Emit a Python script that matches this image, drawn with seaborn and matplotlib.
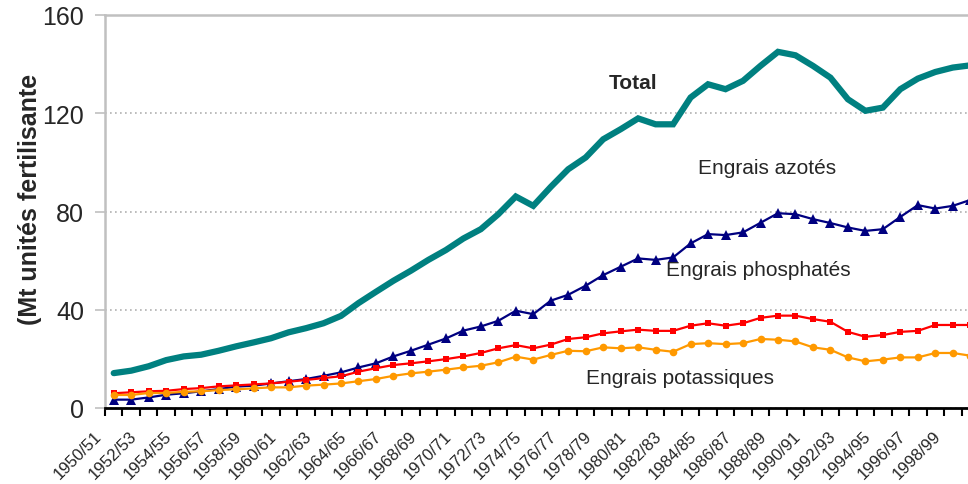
import numpy as np
import pandas as pd
import matplotlib
matplotlib.use("Agg")
import matplotlib.pyplot as plt
import matplotlib.transforms as mtransforms
import seaborn as sns

# seasons 1950/51 .. 1999/00
seasons = [f"{y}/{str(y + 1)[-2:]}" for y in range(1950, 2000)]

# world fertiliser use, Mt of nutrients
total = [14.2, 15.2, 17.0, 19.5, 21.0, 21.7, 23.3, 25.1, 26.7, 28.4,
         30.8, 32.5, 34.5, 37.5, 42.7, 47.3, 51.8, 55.9, 60.3, 64.3,
         69.0, 72.8, 78.9, 86.1, 82.3, 90.0, 97.2, 102.0, 109.4, 113.5,
         117.9, 115.5, 115.5, 126.4, 131.8, 129.8, 133.2, 139.3, 145.0, 143.6,
         139.3, 134.5, 125.7, 121.0, 122.3, 129.8, 134.1, 136.8, 138.6, 139.5]
azotes = [3.4, 3.4, 4.3, 5.4, 6.0, 6.8, 7.7, 8.7, 9.1, 10.0,
          10.9, 11.8, 13.1, 14.5, 16.5, 18.2, 21.0, 23.3, 25.8, 28.3,
          31.5, 33.2, 35.5, 39.6, 38.2, 43.7, 46.1, 49.8, 54.1, 57.5,
          60.9, 60.3, 61.3, 67.0, 70.8, 70.4, 71.5, 75.4, 79.3, 78.9,
          76.9, 75.3, 73.5, 72.1, 72.8, 77.8, 82.6, 81.2, 82.3, 84.7]
phosphates = [6.0, 6.4, 6.8, 7.0, 7.7, 8.1, 8.8, 9.2, 9.6, 10.0,
              10.7, 11.4, 12.2, 12.9, 14.8, 16.2, 17.5, 18.2, 19.0, 19.9,
              21.0, 22.4, 24.3, 25.6, 24.3, 25.8, 28.1, 28.8, 30.4, 31.2,
              31.9, 31.4, 31.4, 33.5, 34.5, 33.5, 34.5, 36.7, 37.6, 37.6,
              36.2, 35.1, 31.0, 29.0, 29.7, 31.0, 31.4, 33.8, 33.8, 33.8]
potassiques = [5.3, 5.3, 6.1, 6.1, 6.6, 6.8, 7.3, 7.6, 8.0, 8.4,
               8.4, 9.1, 9.5, 10.0, 10.9, 11.8, 13.1, 14.1, 14.8, 15.6,
               16.5, 17.2, 18.6, 20.9, 19.7, 21.6, 23.3, 23.1, 24.7, 24.3,
               24.7, 23.7, 22.9, 26.0, 26.4, 26.0, 26.4, 28.1, 27.8, 27.1,
               24.7, 23.7, 20.6, 19.0, 19.7, 20.6, 20.6, 22.4, 22.4, 21.3]

df = pd.DataFrame({"pos": np.arange(len(seasons)), "saison": seasons,
                   "Total": total, "azotes": azotes,
                   "phosphates": phosphates, "potassiques": potassiques})

sns.set_theme(style="white")
plt.rcParams["font.family"] = ["Liberation Sans", "DejaVu Sans"]

fig = plt.figure(figsize=(9.68, 4.85), dpi=100)
# axes runs a little past the right edge, like the cropped original
ax = fig.add_axes([105 / 968, 76 / 485, 874 / 968, 393 / 485])

sns.lineplot(data=df, x="pos", y="azotes", ax=ax, color="#000080", lw=1.6,
             marker="^", markersize=7.5, markeredgewidth=0)
sns.lineplot(data=df, x="pos", y="phosphates", ax=ax, color="#FF0000", lw=1.6,
             marker="s", markersize=4.5, markeredgewidth=0)
sns.lineplot(data=df, x="pos", y="potassiques", ax=ax, color="#FF9900", lw=1.6,
             marker="o", markersize=5.5, markeredgewidth=0)
sns.lineplot(data=df, x="pos", y="Total", ax=ax, color="#008080", lw=4.5,
             solid_joinstyle="miter")

ax.set_xlim(-0.5, len(seasons) - 0.5)
ax.set_ylim(0, 160)
ax.set_xlabel("")
ax.set_ylabel("")

# y axis
ax.set_yticks([0, 40, 80, 120, 160])
ax.tick_params(axis="y", which="major", direction="out", length=7, width=1.2,
               color="#c0c0c0", labelsize=18, pad=8, left=True)
ax.yaxis.grid(True, linestyle=(0, (1, 2)), color="#b0b0b0", lw=1.2)
ax.set_axisbelow(True)

# x axis: tick marks between categories, labels on every other season
ax.set_xticks(np.arange(-0.5, len(seasons), 1.0))
ax.set_xticklabels([])
ax.tick_params(axis="x", which="major", direction="out", length=6, width=1.5,
               color="black", bottom=True)
ax.set_xticks(df["pos"][::2], minor=True)
ax.set_xticklabels(df["saison"][::2], minor=True, rotation=45, ha="right",
                   va="top", rotation_mode="anchor", fontsize=12)
ax.tick_params(axis="x", which="minor", length=0, pad=14)
shift = mtransforms.ScaledTranslation(-14 / 72, 0, fig.dpi_scale_trans)
for lbl in ax.get_xticklabels(minor=True):
    lbl.set_transform(lbl.get_transform() + shift)

for side in ["left", "top"]:
    ax.spines[side].set_color("#c0c0c0")
    ax.spines[side].set_linewidth(1.8)
ax.spines["right"].set_visible(False)
ax.spines["bottom"].set_color("black")
ax.spines["bottom"].set_linewidth(2)

# series labels
ax.text(29.7, 132.6, "Total", fontsize=15, fontweight="bold", ha="center", va="center")
ax.text(37.4, 98, "Engrais azotés", fontsize=15, ha="center", va="center")
ax.text(36.9, 56.5, "Engrais phosphatés", fontsize=15, ha="center", va="center")
ax.text(32.4, 12.4, "Engrais potassiques", fontsize=15, ha="center", va="center")

fig.text(30 / 968, 1 - 199 / 485, "(Mt unités fertilisante", rotation=90,
         fontsize=18, fontweight="bold", ha="center", va="center")

fig.savefig("out.png", dpi=100)
